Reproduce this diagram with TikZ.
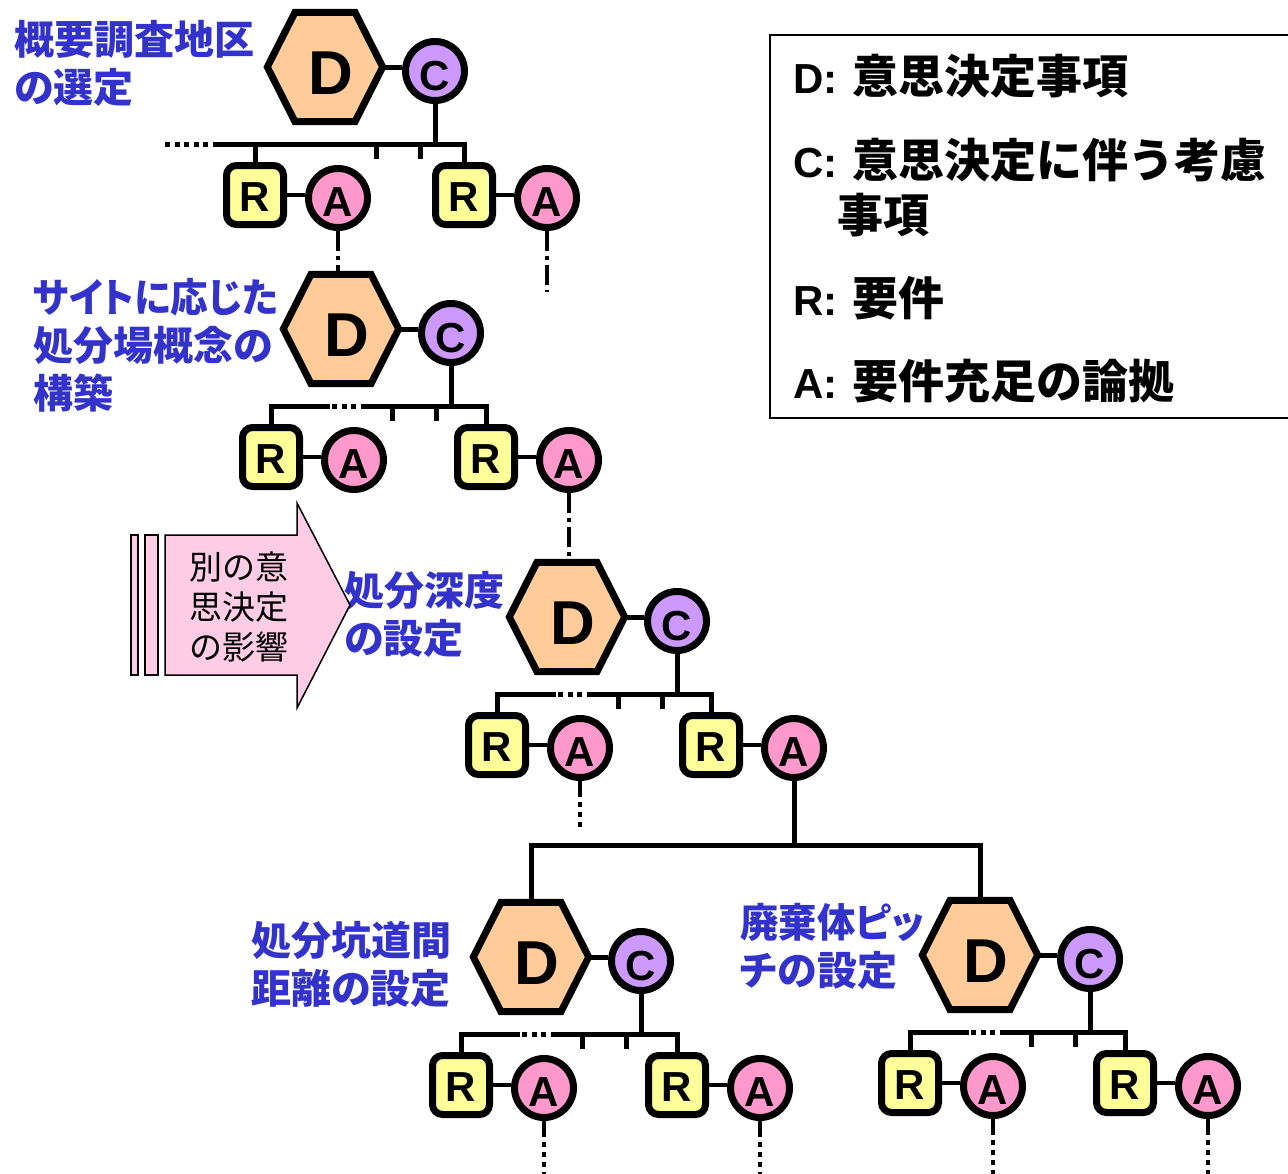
\documentclass[tikz,border=0pt]{standalone}
\usepackage{fontspec}
\setmainfont{Liberation Sans}
\newfontfamily\jp{Noto Sans CJK JP}
\newfontfamily\jpp{Noto Sans CJK JP}[RawFeature={+palt}]
\usetikzlibrary{calc,backgrounds}
\definecolor{hexfill}{HTML}{FFCC99}
\definecolor{cfill}{HTML}{CC99FF}
\definecolor{rfill}{HTML}{FFFF99}
\definecolor{afill}{HTML}{FF99CC}
\definecolor{arrfill}{HTML}{FFCCE6}
\definecolor{lblue}{HTML}{3333CC}
\tikzset{
 hexn/.style={rectangle, inner sep=0pt, minimum width=115pt, minimum height=109pt, text height=54pt, text depth=0pt, font=\fontsize{62}{62}\selectfont\bfseries},
 hexline/.style={line width=7pt, line join=miter, fill=hexfill, draw=black},
 cn/.style={circle, draw=black, line width=7pt, fill=cfill, minimum size=59pt, inner sep=0pt, text height=38pt, text depth=0pt, font=\fontsize{42}{42}\selectfont\bfseries},
 rn/.style={rectangle, rounded corners=10pt, draw=black, line width=7pt, fill=rfill, minimum width=57pt, minimum height=59pt, inner sep=0pt, text height=32pt, text depth=0pt, font=\fontsize{42}{42}\selectfont\bfseries},
 an/.style={cn, fill=afill, text height=36pt},
 link/.style={line width=5pt},
 thinlink/.style={line width=3.5pt},
 barline/.style={line width=5pt},
 dotseg/.style={line width=5pt, dash pattern=on 5pt off 4.5pt},
 dashdot/.style={line width=4.5pt, dash pattern=on 20pt off 5pt on 4pt off 5pt},
 dottail/.style={line width=4.5pt, dash pattern=on 16pt off 5pt on 5pt off 5pt on 5pt off 5pt on 5pt off 5pt on 5pt off 5pt on 5pt off 5pt on 5pt off 5pt on 5pt off 5pt on 5pt off 5pt},
 bluelabel/.style={anchor=west, align=left, inner sep=0pt, text=lblue, font=\jpp\bfseries\fontsize{40}{48}\selectfont},
 arrtext/.style={anchor=west, align=left, inner sep=0pt, text=black, font=\jp\fontsize{33}{40}\selectfont},
 legtext/.style={anchor=west, inner sep=0pt, font=\bfseries\fontsize{42}{50}\selectfont},
}
\newcommand\jl[1]{\hspace*{15pt}{\jp\fontsize{46}{50}\selectfont #1}}
% unit: #1 name, #2 X, #3 Y, #4 bar variant, #5 right R offset
\newcommand\dcunit[5]{%
 \node[hexn] (d#1) at (#2,#3) {\hspace*{12pt}D};
 \node[cn] (c#1) at ({#2+110},{#3+4}) {C};
 \node[rn] (r#1a) at ({#2-70},{#3+128}) {R};
 \node[an] (a#1a) at ({#2+13},{#3+131}) {A};
 \node[rn] (r#1b) at ({#2+#5},{#3+128}) {R};
 \node[an] (a#1b) at ({#2+#5+83},{#3+131}) {A};
 \coordinate (b#1) at (#2,{#3+77});
 \draw[link] (d#1.east) -- (d#1.east -| c#1.west);
 \draw[link] (c#1.south) -- (c#1.south |- b#1);
 \draw[link] (r#1a.north) -- (r#1a.north |- b#1);
 \draw[link] (r#1b.north) -- (r#1b.north |- b#1);
 \draw[thinlink] (r#1a.east) -- (r#1a.east -| a#1a.west);
 \draw[thinlink] (r#1b.east) -- (r#1b.east -| a#1b.west);
 \draw[link] ($(b#1)+(51,0)$) -- ++(0,15);
 \draw[link] ($(b#1)+(95,0)$) -- ++(0,15);
 \ifnum#4=1
  \draw[barline] ($(b#1)+(-108,0)$) -- ($(r#1b.north |- b#1)+(2.5,0)$);
  \draw[dotseg] ($(b#1)+(-160,0)$) -- ($(b#1)+(-108,0)$);
 \else
  \draw[barline] ($(r#1a.north |- b#1)+(-2.5,0)$) -- ($(b#1)+(-11,0)$);
  \draw[dotseg] ($(b#1)+(-9,0)$) -- ($(b#1)+(25,0)$);
  \draw[barline] ($(b#1)+(25,0)$) -- ($(r#1b.north |- b#1)+(2.5,0)$);
 \fi
}
\begin{document}
\begin{tikzpicture}[x=1pt,y=-1pt]
\useasboundingbox (0,0) rectangle (1288,1173);

\dcunit{1}{325}{67}{1}{139}
\dcunit{2}{341}{329}{0}{145}
\dcunit{3}{567}{617}{0}{144}
\dcunit{4}{531}{957}{0}{146}
\dcunit{5}{980}{955}{0}{145}

\begin{scope}[on background layer]
\foreach \n in {d1,d2,d3,d4,d5}
 \filldraw[hexline] (\n.west) -- ($(\n.north west)!0.24!(\n.north east)$) -- ($(\n.north west)!0.76!(\n.north east)$) -- (\n.east) -- ($(\n.south west)!0.76!(\n.south east)$) -- ($(\n.south west)!0.24!(\n.south east)$) -- cycle;
\end{scope}

% links between units
\coordinate (e1) at (547,292);
\coordinate (e3) at (580,828);
\coordinate (bb) at (797,845);
\coordinate (bottom) at (0,1176);
\draw[dashdot] (a1a.south) -- (a1a.south |- d2.north);
\draw[dashdot] (a1b.south) -- (a1b.south |- e1);
\draw[dashdot] (a2b.south) -- (a2b.south |- d3.north);
\draw[dottail] (a3a.south) -- (a3a.south |- e3);
\draw[link] (a3b.south) -- (a3b.south |- bb);
\draw[barline, line join=miter] (d4.north) -- (d4.north |- bb) -- (d5.north |- bb) -- (d5.north);
\foreach \n in {a4a,a4b,a5a,a5b}
 \draw[dottail] (\n.south) -- (\n.south |- bottom);

% labels
\node[bluelabel] (t1) at (14,63) {概要調査地区\\の選定};
\node[bluelabel] (t2) at (33,345) {\scalebox{0.94}[1]{サイトに応じた}\\処分場概念の\\構築};
\node[bluelabel] (t3) at (344,614) {処分深度\\の設定};
\node[bluelabel] (t4) at (251,964) {処分坑道間\\距離の設定};
\node[bluelabel] (t5) at (740,946) {\scalebox{0.96}[1]{廃棄体ピッ}\\チの設定};

% influence arrow
\filldraw[fill=arrfill, draw=black, line width=1.5pt] (131,535) rectangle (138,675);
\filldraw[fill=arrfill, draw=black, line width=1.5pt] (145,535) rectangle (158,675);
\filldraw[fill=arrfill, draw=black, line width=1.5pt, line join=miter] (165,535) -- (297,535) -- (297,503) -- (350,605) -- (297,708) -- (297,675) -- (165,675) -- cycle;
\node[arrtext] (arr) at (189,607) {別の意\\思決定\\の影響};

% legend
\draw[line width=2pt] (770,35) rectangle (1300,418);
\node[legtext] (l1) at (793,76) {D:\jl{意思決定事項}};
\node[legtext] (l2) at (793,160) {C:\jl{意思決定に伴う考慮}};
\node[legtext] (l3) at (837,215) {{\jp\fontsize{46}{50}\selectfont 事項}};
\node[legtext] (l4) at (793,298) {R:\jl{要件}};
\node[legtext] (l5) at (793,381) {A:\jl{要件充足の論拠}};
\end{tikzpicture}
\end{document}
